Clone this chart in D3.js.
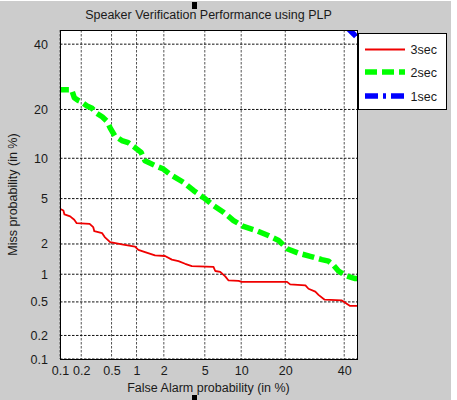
<!DOCTYPE html>
<html><head><meta charset="utf-8">
<script src="https://cdn.jsdelivr.net/npm/d3@7"></script>
<style>html,body{margin:0;padding:0;background:#fff;}svg{display:block;font-family:Arial,"Liberation Sans",sans-serif;}</style>
</head><body><svg id="c" width="457" height="400"></svg>
<script>
// ---- data (percent) ----
const tickValues = [0.1, 0.2, 0.5, 1, 2, 5, 10, 20, 40];
const tickLabels = ["0.1", "0.2", "0.5", "1", "2", "5", "10", "20", "40"];
const axisLimits = [0.1, 45];
const seriesNames = ["3sec", "2sec", "1sec"];
const fa3sec = [0.1,0.112,0.116,0.14,0.16,0.173,0.26,0.29,0.30,0.38,0.41,0.48,0.67,0.96,1.05,1.25,1.61,2.06,2.42,2.82,3.28,3.80,5.96,6.17,6.80,7.48,7.96,9.55,10.1,16.1,20.5,21.4,26.1,27.1,29.4,30.5,32.7,39.1,40.4,42.3,45.1];
const miss3sec = [4.12,3.99,3.69,3.55,3.32,3.10,3.06,2.86,2.63,2.52,2.32,2.08,1.98,1.89,1.76,1.67,1.55,1.53,1.41,1.36,1.28,1.21,1.19,1.08,1.06,0.95,0.86,0.85,0.83,0.83,0.83,0.78,0.76,0.70,0.65,0.60,0.53,0.52,0.49,0.45,0.45];
const fa2sec = [0.09,0.147,0.16,0.18,0.20,0.24,0.28,0.32,0.38,0.44,0.48,0.55,0.67,0.80,0.96,1.13,1.25,1.61,1.98,2.32,3.16,3.94,5.04,5.96,7.24,8.72,10.4,13.0,15.6,18.2,20.5,23.9,27.7,31.7,34.1,35.9,37.8,40.4,44.3,46];
const miss2sec = [25.3,25.3,23.1,22.4,22.0,20.9,20.3,19.1,18.2,17.1,15.7,14.0,13.1,12.7,11.8,10.95,9.6,8.9,8.4,7.7,6.7,5.8,4.98,4.38,3.85,3.27,2.90,2.65,2.40,2.16,1.80,1.63,1.52,1.41,1.36,1.24,1.08,0.97,0.90,0.90];
const fa1sec = [41.0, 46.0];
const miss1sec = [46.0, 41.5];

// inverse normal CDF (probit)
function probit(p){
  const a=[-3.969683028665376e+01,2.209460984245205e+02,-2.759285104469687e+02,1.383577518672690e+02,-3.066479806614716e+01,2.506628277459239e+00];
  const b=[-5.447609879822406e+01,1.615858368580409e+02,-1.556989798598866e+02,6.680131188771972e+01,-1.328068155288572e+01];
  const c=[-7.784894002430293e-03,-3.223964580411365e-01,-2.400758277161838e+00,-2.549732539343734e+00,4.374664141464968e+00,2.938163982698783e+00];
  const d=[7.784695709041462e-03,3.224671290700398e-01,2.445134137142996e+00,3.754408661907416e+00];
  const pl=0.02425, ph=1-pl; let q,r;
  if(p<pl){q=Math.sqrt(-2*Math.log(p));return (((((c[0]*q+c[1])*q+c[2])*q+c[3])*q+c[4])*q+c[5])/((((d[0]*q+d[1])*q+d[2])*q+d[3])*q+1);}
  if(p<=ph){q=p-0.5;r=q*q;return (((((a[0]*r+a[1])*r+a[2])*r+a[3])*r+a[4])*r+a[5])*q/(((((b[0]*r+b[1])*r+b[2])*r+b[3])*r+b[4])*r+1);}
  q=Math.sqrt(-2*Math.log(1-p));return -(((((c[0]*q+c[1])*q+c[2])*q+c[3])*q+c[4])*q+c[5])/((((d[0]*q+d[1])*q+d[2])*q+d[3])*q+1);
}
const pz = v => probit(v/100);

const svg = d3.select("#c");
const L=60, R=357, T=30, B=359;
const x = d3.scaleLinear().domain(axisLimits.map(pz)).range([L,R]);
const y = d3.scaleLinear().domain(axisLimits.map(pz)).range([B,T]);
const textCol = "#1a1a1a";

// background
svg.append("rect").attr("x",0).attr("y",1).attr("width",451).attr("height",399).attr("fill","#cccccc");
svg.append("rect").attr("x",L).attr("y",T).attr("width",R-L).attr("height",B-T).attr("fill","#fff");

// grid
const g = svg.append("g");
g.selectAll("line.v").data(tickValues).join("line")
  .attr("x1",d=>x(pz(d))).attr("x2",d=>x(pz(d))).attr("y1",T).attr("y2",B)
  .attr("stroke","#555").attr("stroke-width",1).attr("stroke-dasharray","2.5,1.5");
g.selectAll("line.h").data(tickValues).join("line")
  .attr("y1",d=>y(pz(d))).attr("y2",d=>y(pz(d))).attr("x1",L).attr("x2",R)
  .attr("stroke","#111").attr("stroke-width",1).attr("stroke-dasharray","2.5,1.5");

// axes
const xAxis = d3.axisBottom(x).tickValues(tickValues.map(pz)).tickFormat((d,i)=>tickLabels[i]).tickSize(0).tickPadding(7);
const yAxis = d3.axisLeft(y).tickValues(tickValues.map(pz)).tickFormat((d,i)=>tickLabels[i]).tickSize(0).tickPadding(12);
const gx = svg.append("g").attr("transform",`translate(0,${B})`).call(xAxis);
const gy = svg.append("g").attr("transform",`translate(${L},0)`).call(yAxis);
[gx,gy].forEach(a=>{a.select(".domain").remove(); a.selectAll("text").attr("font-size","12.5px").attr("fill",textCol).attr("font-family","Arial, 'Liberation Sans', sans-serif");});

// curves
svg.append("clipPath").attr("id","clip").append("rect").attr("x",L).attr("y",T).attr("width",R-L).attr("height",B-T);
const line = d3.line().x(d=>x(pz(d[0]))).y(d=>y(pz(d[1])));
const cg = svg.append("g").attr("clip-path","url(#clip)");
const series = [
  {fa:fa3sec, miss:miss3sec, color:"#f00000", w:1.8, dash:null},
  {fa:fa2sec, miss:miss2sec, color:"#00ff00", w:5.5, dash:"12,5"},
  {fa:fa1sec, miss:miss1sec, color:"#0000ff", w:5.5, dash:"13,5,3,5"}
];
series.forEach(s=>{
  cg.append("path").datum(d3.zip(s.fa,s.miss)).attr("d",line).attr("fill","none")
    .attr("stroke",s.color).attr("stroke-width",s.w).attr("stroke-dasharray",s.dash)
    .attr("stroke-linejoin","round");
});

// box
svg.append("rect").attr("x",L).attr("y",T).attr("width",R-L).attr("height",B-T)
  .attr("fill","none").attr("stroke","#000").attr("stroke-width",1).attr("shape-rendering","crispEdges");

// title & labels
svg.append("text").attr("x",(L+R)/2).attr("y",19).attr("text-anchor","middle").attr("font-size","12.5px").attr("fill",textCol)
  .text("Speaker Verification Performance using PLP");
svg.append("text").attr("x",(L+R)/2).attr("y",392).attr("text-anchor","middle").attr("font-size","12.5px").attr("fill",textCol)
  .text("False Alarm probability (in %)");
svg.append("text").attr("transform",`translate(17,${(T+B)/2}) rotate(-90)`).attr("text-anchor","middle").attr("font-size","12.5px").attr("fill",textCol)
  .text("Miss probability (in %)");

// legend
const lg = svg.append("g");
lg.append("rect").attr("x",358).attr("y",33).attr("width",88).attr("height",76).attr("fill","#fff").attr("stroke","#000").attr("shape-rendering","crispEdges");
const ly = [49.5, 72, 96];
series.forEach((s,i)=>{
  lg.append("line").attr("x1",365).attr("x2",405).attr("y1",ly[i]).attr("y2",ly[i])
    .attr("stroke",s.color).attr("stroke-width",s.w).attr("stroke-dasharray",s.dash);
  lg.append("text").attr("x",410.5).attr("y",ly[i]).attr("dy","0.36em").attr("font-size","12.5px").attr("fill",textCol).text(seriesNames[i]);
});

// small black markers (figure artifacts)
svg.append("rect").attr("x",192).attr("y",2).attr("width",5).attr("height",7).attr("fill","#000");
svg.append("rect").attr("x",192).attr("y",395).attr("width",5).attr("height",5).attr("fill","#000");
</script></body></html>
